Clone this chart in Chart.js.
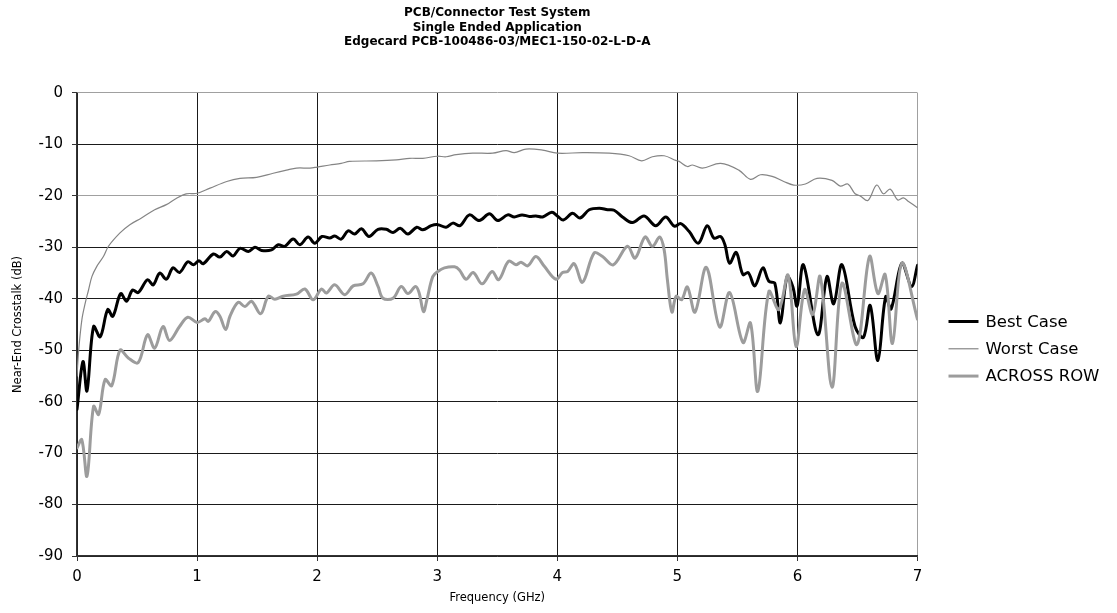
<!DOCTYPE html>
<html>
<head>
<meta charset="utf-8">
<script src="https://cdn.jsdelivr.net/npm/chart.js@4.4.1/dist/chart.umd.min.js"></script>
<style>
  body { margin: 0; background: #fff; }
</style>
</head>
<body>
<canvas id="myChart" width="1117" height="613"></canvas>
<script>
// values (GHz, dB)
const titleLines = ['PCB/Connector Test System', 'Single Ended Application', 'Edgecard PCB-100486-03/MEC1-150-02-L-D-A'];
const seriesNames = ['Best Case', 'Worst Case', 'ACROSS ROW'];

const bestX = [0, 0.05, 0.083, 0.138, 0.193, 0.256, 0.298, 0.364, 0.413, 0.463, 0.51, 0.587, 0.634, 0.689, 0.744, 0.799, 0.854, 0.923, 0.97,
    1.015, 1.05, 1.136, 1.19, 1.247, 1.3, 1.357, 1.427, 1.482, 1.537, 1.62, 1.676, 1.731, 1.8, 1.856, 1.925, 1.98,
    2.04, 2.105, 2.146, 2.2, 2.258, 2.313, 2.369, 2.432, 2.507, 2.576, 2.632, 2.692, 2.756, 2.83, 2.88, 2.95,
    3.005, 3.074, 3.13, 3.19, 3.268, 3.35, 3.435, 3.504, 3.587, 3.642, 3.706, 3.767, 3.822, 3.878, 3.955,
    4.0, 4.05, 4.127, 4.19, 4.266, 4.35, 4.42, 4.473, 4.543, 4.626, 4.723, 4.82, 4.903, 4.975,
    5.028, 5.097, 5.175, 5.249, 5.305, 5.36, 5.396, 5.435, 5.49, 5.546, 5.59, 5.645, 5.712, 5.762, 5.812, 5.858, 5.914, 5.961, 5.997,
    6.05, 6.17, 6.246, 6.302, 6.371, 6.48, 6.55, 6.606, 6.67, 6.735, 6.78, 6.87, 6.95, 7.0];
const bestY = [-61.5, -52.2, -57.9, -45.4, -47.4, -42.1, -43.4, -39.0, -40.5, -38.3, -38.8, -36.3, -37.3, -35.0, -36.2, -34.0, -34.9, -32.8, -33.4,
    -32.6, -33.2, -31.3, -31.9, -30.8, -31.7, -30.2, -30.8, -30.0, -30.6, -30.5, -29.5, -29.8, -28.4, -29.5, -28.0, -29.2,
    -27.9, -28.2, -27.8, -28.4, -26.8, -27.4, -26.4, -27.9, -26.5, -26.5, -27.1, -26.3, -27.4, -26.1, -26.6, -25.8,
    -25.6, -26.1, -25.3, -25.8, -23.7, -24.8, -23.5, -24.8, -23.7, -24.1, -23.7, -24.0, -23.9, -24.1, -23.2,
    -23.9, -24.7, -23.4, -24.3, -22.7, -22.4, -22.7, -22.8, -24.1, -25.2, -23.9, -25.8, -24.1, -25.9,
    -25.4, -26.9, -29.2, -25.8, -28.2, -27.9, -29.5, -33.1, -31.0, -35.3, -34.9, -37.5, -34.0, -36.6, -37.0, -44.7, -35.7, -37.6, -41.4,
    -33.4, -47.0, -35.7, -41.0, -33.4, -45.4, -47.5, -41.3, -52.0, -39.6, -42.0, -33.1, -37.6, -33.5];

const worstX = [0, 0.014, 0.041, 0.069, 0.096, 0.124, 0.165, 0.22, 0.262, 0.358, 0.44, 0.537, 0.647, 0.744, 0.826, 0.909,
    1.0, 1.108, 1.247, 1.357, 1.496, 1.634, 1.745, 1.828, 1.94,
    2.0, 2.105, 2.2, 2.27, 2.493, 2.66, 2.77, 2.88,
    3.0, 3.074, 3.158, 3.296, 3.462, 3.573, 3.642, 3.739, 3.878,
    4.0, 4.21, 4.432, 4.598, 4.703, 4.792, 4.89, 4.986,
    5.014, 5.083, 5.125, 5.208, 5.36, 5.512, 5.609, 5.692, 5.789, 5.886, 5.969,
    6.066, 6.163, 6.288, 6.357, 6.42, 6.48, 6.522, 6.587, 6.66, 6.717, 6.772, 6.836, 6.883, 6.925, 7.0];
const worstY = [-55.0, -50.0, -44.0, -40.8, -38.3, -35.7, -33.7, -31.8, -29.8, -27.2, -25.6, -24.3, -22.7, -21.7, -20.5, -19.6,
    -19.5, -18.5, -17.2, -16.6, -16.4, -15.6, -15.0, -14.6, -14.6,
    -14.4, -14.0, -13.7, -13.3, -13.2, -13.0, -12.7, -12.7,
    -12.3, -12.4, -12.0, -11.7, -11.7, -11.2, -11.6, -10.9, -11.1,
    -11.7, -11.6, -11.7, -12.2, -13.2, -12.4, -12.2, -13.1,
    -13.3, -14.3, -14.0, -14.6, -13.7, -15.0, -16.8, -15.9, -16.2, -17.2, -17.9,
    -17.7, -16.6, -17.0, -18.1, -17.7, -19.6, -20.0, -20.9, -17.9, -19.6, -18.7, -20.8, -20.4, -21.1, -22.3];

const acrossX = [0, 0.04, 0.083, 0.138, 0.18, 0.234, 0.289, 0.358, 0.427, 0.51, 0.587, 0.647, 0.716, 0.771, 0.854, 0.923,
    1.0, 1.066, 1.094, 1.15, 1.19, 1.238, 1.274, 1.343, 1.399, 1.454, 1.53, 1.593, 1.648, 1.717, 1.828, 1.898, 1.967,
    2.036, 2.077, 2.146, 2.23, 2.3, 2.382, 2.45, 2.507, 2.548, 2.632, 2.7, 2.756, 2.82, 2.85, 2.886, 2.914, 2.963,
    3.005, 3.06, 3.144, 3.185, 3.24, 3.3, 3.374, 3.457, 3.512, 3.595, 3.656, 3.698, 3.753, 3.822, 3.892, 3.988,
    4.044, 4.086, 4.141, 4.21, 4.307, 4.377, 4.466, 4.584, 4.648, 4.731, 4.792, 4.853, 4.89, 4.917, 4.955, 4.99,
    5.036, 5.083, 5.147, 5.241, 5.352, 5.435, 5.546, 5.609, 5.67, 5.762, 5.845, 5.922, 5.989,
    6.06, 6.127, 6.19, 6.288, 6.371, 6.496, 6.6, 6.67, 6.731, 6.792, 6.87, 7.0];
const acrossY = [-69.0, -67.4, -74.5, -60.9, -62.5, -55.7, -56.9, -50.0, -51.5, -52.4, -47.0, -49.6, -45.4, -48.1, -45.4, -43.6,
    -44.6, -43.9, -44.4, -42.5, -43.4, -46.0, -43.4, -40.7, -41.5, -40.5, -42.9, -39.5, -40.1, -39.5, -39.1, -38.1, -40.2,
    -38.1, -38.9, -37.3, -39.2, -37.5, -37.1, -35.0, -37.6, -39.9, -39.9, -37.6, -39.0, -37.6, -38.9, -42.5, -40.2, -35.7,
    -34.7, -34.0, -33.8, -34.4, -36.2, -34.9, -37.1, -34.7, -36.3, -32.7, -33.4, -32.9, -33.6, -31.8, -33.7, -36.2,
    -34.9, -34.7, -33.2, -36.8, -31.1, -31.8, -33.4, -29.8, -32.1, -28.0, -29.8, -28.0, -30.5, -36.3, -42.6, -39.5,
    -40.2, -37.7, -42.6, -33.9, -45.5, -38.8, -48.5, -44.7, -58.0, -38.6, -42.1, -35.4, -49.3,
    -38.2, -43.1, -35.7, -57.2, -37.0, -48.9, -31.8, -39.0, -35.3, -48.7, -33.1, -44.0];

const xMin = 0, xMax = 7, xStep = 1;
const yMin = -90, yMax = 0, yStep = 10;

const toPoints = function(xs, ys) {
    return xs.map(function(x, i) { return { x: x, y: ys[i] }; });
};

// Excel-style legend to the right of the plot
const sideLegend = {
    id: 'sideLegend',
    afterDraw: function(chart) {
        const ctx = chart.ctx;
        const area = chart.chartArea;
        const left = area.right + 31;
        let y = (area.top + area.bottom) / 2 - 3;
        ctx.save();
        ctx.font = '16.5px "DejaVu Sans"';
        ctx.textBaseline = 'middle';
        ctx.fillStyle = '#000';
        chart.data.datasets.forEach(function(ds) {
            ctx.strokeStyle = ds.borderColor;
            ctx.lineWidth = ds.borderWidth;
            ctx.beginPath();
            ctx.moveTo(left, y);
            ctx.lineTo(left + 30, y);
            ctx.stroke();
            ctx.fillText(ds.label, left + 37, y + 1);
            y += 27.3;
        });
        ctx.restore();
    }
};

const tickFont = { family: 'DejaVu Sans', size: 15 };
const axisTitleFont = { family: 'DejaVu Sans', size: 11.5 };

new Chart(document.getElementById('myChart'), {
    type: 'line',
    data: {
        datasets: [{
            label: seriesNames[0],
            data: toPoints(bestX, bestY),
            borderColor: '#000000',
            borderWidth: 3,
            order: 3
        }, {
            label: seriesNames[1],
            data: toPoints(worstX, worstY),
            borderColor: '#858585',
            borderWidth: 1.2,
            order: 2
        }, {
            label: seriesNames[2],
            data: toPoints(acrossX, acrossY),
            borderColor: '#9c9c9c',
            borderWidth: 3,
            order: 1
        }]
    },
    options: {
        responsive: false,
        animation: false,
        elements: {
            point: { radius: 0, hoverRadius: 0 },
            line: { tension: 0.35, borderJoinStyle: 'round', borderCapStyle: 'round' }
        },
        layout: { padding: { left: 0, right: 199.5, top: 0, bottom: 0 } },
        plugins: {
            legend: { display: false },
            tooltip: { enabled: false },
            title: {
                display: true,
                text: titleLines,
                color: '#000',
                fullSize: false,
                font: { family: 'DejaVu Sans', size: 12, weight: 'bold', lineHeight: 1.21 },
                padding: { top: 6, bottom: 43.4 }
            }
        },
        scales: {
            x: {
                type: 'linear',
                min: xMin,
                max: xMax,
                afterFit: function(scale) { scale.height = 57; },
                ticks: { stepSize: xStep, color: '#000', font: tickFont, padding: 7, maxRotation: 0 },
                grid: {
                    color: function(c) { return c.tick && c.tick.value === xMax ? '#a0a0a0' : '#1a1a1a'; },
                    lineWidth: 1,
                    tickLength: 5,
                    tickColor: '#333'
                },
                border: { color: '#333', width: 1.5 },
                title: { display: true, text: 'Frequency (GHz)', color: '#000', font: axisTitleFont, padding: { top: 0, bottom: 8 } }
            },
            y: {
                min: yMin,
                max: yMax,
                afterFit: function(scale) { scale.width = 77; },
                ticks: { stepSize: yStep, color: '#000', font: tickFont, padding: 9 },
                grid: {
                    color: function(c) {
                        return c.tick && (c.tick.value === yMax || c.tick.value === -20) ? '#a0a0a0' : '#1a1a1a';
                    },
                    lineWidth: 1,
                    tickLength: 5,
                    tickColor: '#333'
                },
                border: { color: '#333', width: 1.5 },
                title: { display: true, text: 'Near-End Crosstalk (dB)', color: '#000', font: axisTitleFont, padding: { top: 11, bottom: 0 } }
            }
        }
    },
    plugins: [sideLegend]
});
</script>
</body>
</html>
